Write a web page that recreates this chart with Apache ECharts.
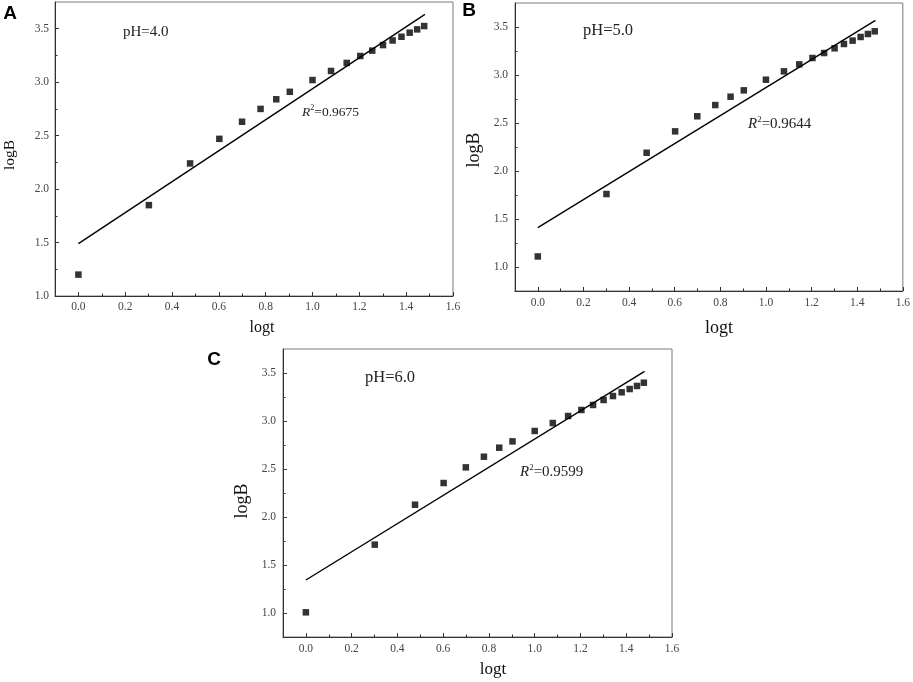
<!DOCTYPE html>
<html>
<head>
<meta charset="utf-8">
<script src="https://cdn.jsdelivr.net/npm/echarts@6/dist/echarts.min.js"></script>
<style>
  html, body { margin: 0; padding: 0; background: #fff; }
  #chart { width: 913px; height: 682px; }
</style>
</head>
<body>
<div id="chart"></div>
<script>
// x values (log t) shared by all three panels
const logT = [0, 0.301, 0.477, 0.602, 0.699, 0.778, 0.845, 0.903, 1.0, 1.079,
  1.146, 1.204, 1.255, 1.301, 1.342, 1.380, 1.415, 1.447, 1.477];

const logB_pH4 = [1.20, 1.85, 2.24, 2.47, 2.63, 2.75, 2.84, 2.91, 3.02, 3.105,
  3.18, 3.245, 3.295, 3.347, 3.39, 3.425, 3.463, 3.494, 3.525];
const logB_pH5 = [1.11, 1.76, 2.19, 2.413, 2.57, 2.687, 2.774, 2.84, 2.951, 3.038,
  3.111, 3.177, 3.229, 3.278, 3.323, 3.358, 3.396, 3.427, 3.455];
const logB_pH6 = [1.007, 1.712, 2.128, 2.354, 2.517, 2.628, 2.722, 2.788, 2.896, 2.979,
  3.052, 3.115, 3.167, 3.219, 3.26, 3.299, 3.333, 3.365, 3.399];

// fitted lines, end points
const fit_pH4 = [[0, 1.49], [1.48, 3.635]];
const fit_pH5 = [[0, 1.41], [1.48, 3.569]];
const fit_pH6 = [[0, 1.344], [1.48, 3.517]];

const xMajor = [0, 0.2, 0.4, 0.6, 0.8, 1.0, 1.2, 1.4, 1.6];
const xMinor = [0.1, 0.3, 0.5, 0.7, 0.9, 1.1, 1.3, 1.5];
const yMajor = [1.0, 1.5, 2.0, 2.5, 3.0, 3.5];
const yMinor = [1.25, 1.75, 2.25, 2.75, 3.25];

const panels = [
  { letter: "A", ph: "pH=4.0", r2: "0.9675", y: logB_pH4, fit: fit_pH4, yMin: 1.0, yMax: 3.75 },
  { letter: "B", ph: "pH=5.0", r2: "0.9644", y: logB_pH5, fit: fit_pH5, yMin: 0.75, yMax: 3.75 },
  { letter: "C", ph: "pH=6.0", r2: "0.9599", y: logB_pH6, fit: fit_pH6, yMin: 0.75, yMax: 3.75 },
];

// layout per panel (pixels)
const layout = [
  { left: 55, top: 2, width: 398, height: 294, xMargin: 5, yMargin: 6, tick: 11.5,
    phPos: [123, 32, 15], r2Pos: [302, 112, 13.5], yName: [10, 155, 15.5], xName: [262, 328, 16], let: [10, 14] },
  { left: 515, top: 3, width: 390, height: 288, xMargin: 6, yMargin: 7, tick: 11.5,
    phPos: [583, 31, 16.5], r2Pos: [748, 124, 15], yName: [474, 150, 18], xName: [719, 328, 18], let: [469, 11] },
  { left: 283, top: 349, width: 389, height: 288, xMargin: 6, yMargin: 7, tick: 11.5,
    phPos: [365, 378, 16.5], r2Pos: [520, 472, 15], yName: [242, 501, 18], xName: [493, 670, 17], let: [214, 360] },
];

const SERIF = "'Liberation Serif', 'Times New Roman', serif";
const chart = echarts.init(document.getElementById("chart"));

const grid = [], xAxis = [], yAxis = [], series = [], graphic = [];

panels.forEach((p, i) => {
  const L = layout[i];
  grid.push({
    left: L.left, top: L.top, width: L.width, height: L.height,
    show: true, borderColor: "#7a7a7a", borderWidth: 1, backgroundColor: "transparent",
  });

  const labelStyle = { color: "#444", fontFamily: SERIF, fontSize: L.tick };
  // main x axis
  xAxis.push({
    type: "value", gridIndex: i, min: -0.1, max: 1.6, position: "bottom",
    axisLine: { show: true, onZero: false, lineStyle: { color: "#333", width: 1 } },
    axisTick: { show: true, inside: true, length: 4, customValues: xMajor, lineStyle: { color: "#333" } },
    axisLabel: Object.assign({ customValues: xMajor, margin: L.xMargin, formatter: (v) => v.toFixed(1) }, labelStyle),
    splitLine: { show: false },
  });
  // minor x ticks
  xAxis.push({
    type: "value", gridIndex: i, min: -0.1, max: 1.6, position: "bottom",
    axisLine: { show: false, onZero: false },
    axisTick: { show: true, inside: true, length: 2.5, customValues: xMinor, lineStyle: { color: "#333" } },
    axisLabel: { show: false },
    splitLine: { show: false },
  });
  yAxis.push({
    type: "value", gridIndex: i, min: p.yMin, max: p.yMax, position: "left",
    axisLine: { show: true, onZero: false, lineStyle: { color: "#333", width: 1 } },
    axisTick: { show: true, inside: true, length: 4, customValues: yMajor, lineStyle: { color: "#333" } },
    axisLabel: Object.assign({ customValues: yMajor, margin: L.yMargin, formatter: (v) => v.toFixed(1) }, labelStyle),
    splitLine: { show: false },
  });
  yAxis.push({
    type: "value", gridIndex: i, min: p.yMin, max: p.yMax, position: "left",
    axisLine: { show: false, onZero: false },
    axisTick: { show: true, inside: true, length: 2.5, customValues: yMinor, lineStyle: { color: "#333" } },
    axisLabel: { show: false },
    splitLine: { show: false },
  });

  series.push({
    type: "line", xAxisIndex: 2 * i, yAxisIndex: 2 * i,
    data: p.fit, showSymbol: false, silent: true,
    lineStyle: { color: "#000", width: 1.4 },
  });
  series.push({
    type: "scatter", xAxisIndex: 2 * i, yAxisIndex: 2 * i,
    data: logT.map((x, k) => [x, p.y[k]]),
    symbol: "rect", symbolSize: 6.5,
    itemStyle: { color: "#000" },
  });

  graphic.push({
    type: "text", x: L.let[0], y: L.let[1],
    style: { text: p.letter, font: "bold 19px 'Liberation Sans', Arial, sans-serif", fill: "#000", align: "center", verticalAlign: "middle" },
  });
  graphic.push({
    type: "text", x: L.phPos[0], y: L.phPos[1],
    style: { text: p.ph, font: L.phPos[2] + "px " + SERIF, fill: "#222", align: "left", verticalAlign: "middle" },
  });
  graphic.push({
    type: "text", x: L.r2Pos[0], y: L.r2Pos[1],
    style: {
      text: "{i|R}{s|2}{n|=" + p.r2 + "}",
      fill: "#222", align: "left", verticalAlign: "middle",
      rich: {
        i: { fontFamily: SERIF, fontSize: L.r2Pos[2], fontStyle: "italic", fill: "#222" },
        s: { fontFamily: SERIF, fontSize: L.r2Pos[2] * 0.6, fill: "#222", padding: [0, 0, L.r2Pos[2] * 0.6, 0] },
        n: { fontFamily: SERIF, fontSize: L.r2Pos[2], fill: "#222" },
      },
    },
  });
  graphic.push({
    type: "text", x: L.yName[0], y: L.yName[1], rotation: Math.PI / 2,
    style: { text: "logB", font: L.yName[2] + "px " + SERIF, fill: "#111", align: "center", verticalAlign: "middle" },
  });
  graphic.push({
    type: "text", x: L.xName[0], y: L.xName[1],
    style: { text: "logt", font: L.xName[2] + "px " + SERIF, fill: "#111", align: "center", verticalAlign: "middle" },
  });
});

chart.setOption({
  animation: false,
  backgroundColor: "#fff",
  grid, xAxis, yAxis, series, graphic,
});
</script>
</body>
</html>
